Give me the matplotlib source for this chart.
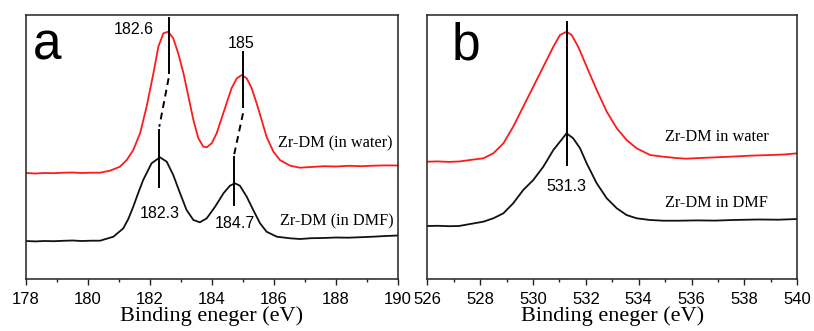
import matplotlib
matplotlib.use("Agg")
import matplotlib.pyplot as plt

# ---- Zr 3d region (panel a) ----
zr_energy_water = [178.0, 178.3, 178.6, 178.9, 179.2, 179.5, 179.8, 180.1, 180.39, 180.71,
                   181.03, 181.25, 181.46, 181.68, 181.89, 182.11, 182.27, 182.43, 182.59, 182.75,
                   182.91, 183.08, 183.24, 183.4, 183.56, 183.72, 183.83, 183.99, 184.15, 184.31,
                   184.47, 184.63, 184.8, 184.96, 185.12, 185.28, 185.44, 185.6, 185.76, 185.98,
                   186.19, 186.52, 186.84, 187.2, 187.6, 188.0, 188.4, 188.8, 189.2, 189.6,
                   190.0]
zr_int_water = [106, 105.5, 106, 105.8, 106.3, 106.5, 106, 106.3, 106.3, 108.3,
                112.3, 119, 129, 145.7, 172.3, 205.7, 232.3, 245.7, 247.3, 240.7,
                225.7, 205.7, 182.3, 159, 140.7, 132.3, 131.7, 135.7, 145.7, 160.7,
                175.7, 190.7, 200.7, 204, 200.7, 190.7, 175.7, 159, 142.3, 127.3,
                119, 113.3, 111.3, 112, 112.8, 112.5, 113.2, 112.8, 113.3, 113.6,
                113.5]

zr_energy_dmf = [178.0, 178.3, 178.6, 178.9, 179.2, 179.5, 179.8, 180.1, 180.39, 180.82,
                 181.14, 181.3, 181.46, 181.62, 181.78, 182.05, 182.32, 182.54, 182.75, 182.97,
                 183.18, 183.4, 183.61, 183.83, 184.1, 184.37, 184.58, 184.74, 184.9, 185.12,
                 185.33, 185.55, 185.76, 186.09, 186.52, 186.84, 187.2, 187.6, 188.0, 188.4,
                 188.8, 189.2, 189.6, 190.0]
zr_int_dmf = [38, 37.6, 38, 37.8, 38.2, 38.5, 38, 38.3, 38.3, 42.3,
              50.7, 60, 72.3, 86, 99, 115.7, 121.7, 117.3, 104, 85.7,
              69, 59, 56.7, 60.7, 72.3, 85.7, 93.3, 95.7, 93.3, 82.3,
              69, 55.7, 47.3, 42.3, 40.7, 40, 40.8, 41, 41.5, 41.3,
              41.8, 42.3, 43, 43.5]

# ---- O 1s region (panel b) ----
o_energy_water = [526.0, 526.4, 526.8, 527.2, 527.62, 528.12, 528.5, 528.88, 529.25, 529.63,
                  530.01, 530.39, 530.77, 531.02, 531.27, 531.46, 531.71, 532.03, 532.41, 532.79,
                  533.17, 533.54, 533.92, 534.43, 534.93, 535.4, 535.8, 536.3, 536.95, 537.6,
                  538.2, 539.0, 539.5, 540.0]
o_int_water = [117.3, 117.6, 117.1, 117.5, 119, 120.7, 125.7, 135.7, 152.3, 172.3,
               192.3, 212.3, 232.3, 244, 247.3, 244, 232.3, 212.3, 189, 167.3,
               150.7, 139, 130.7, 124, 122.3, 121, 120.3, 121, 121.7, 122.5,
               123.3, 124, 124.5, 125.7]

o_energy_dmf = [526.0, 526.4, 526.8, 527.2, 527.62, 528.12, 528.5, 528.88, 529.25, 529.63,
                530.01, 530.39, 530.77, 531.02, 531.27, 531.52, 531.78, 532.03, 532.41, 532.79,
                533.17, 533.54, 533.92, 534.43, 534.93, 535.5, 536.2, 536.9, 537.57, 538.5,
                539.3, 540.0]
o_int_dmf = [53, 53.2, 52.8, 53, 55, 57.3, 60.7, 65.7, 75.7, 89,
             99, 112.3, 129, 137.3, 145.7, 140.7, 130.7, 115.7, 95.7, 80.7,
             70.7, 64, 60.7, 59, 58.3, 58.3, 58.6, 58.4, 59, 59.5,
             59.3, 60]

# peak positions and the vertical extent of their marker lines
zr_peaks_water = [182.6, 185.0]
zr_peaks_dmf = [182.3, 184.7]
zr_water_marks = [(261, 205.7), (227.3, 172.3)]
zr_dash_marks = [(200.7, 152.3), (165.7, 122.3)]
zr_dmf_marks = [(149, 92.3), (122.3, 74)]
o_peak = 531.3
o_mark = (257.3, 114)

SANS = ["Liberation Sans", "DejaVu Sans"]
SERIF = ["Liberation Serif", "DejaVu Serif"]

fig = plt.figure(figsize=(8.14, 3.31), dpi=100)
ax_a = fig.add_axes([26 / 814, 52 / 331, 372 / 814, 264 / 331])
ax_b = fig.add_axes([427.3 / 814, 52 / 331, 370 / 814, 264 / 331])


def style_axes(ax, xlim, ticks):
    ax.set_xlim(*xlim)
    ax.set_ylim(0, 264)
    ax.set_yticks([])
    ax.set_xticks(ticks)
    ax.set_xticks([t + 1 for t in ticks[:-1]], minor=True)
    ax.tick_params(axis="x", which="major", direction="out", length=4, width=1,
                   pad=5, labelsize=12, color="#222222")
    ax.tick_params(axis="x", which="minor", direction="out", length=2.5, width=1,
                   color="#222222")
    for lab in ax.get_xticklabels():
        lab.set_family(SANS)
    for sp in ax.spines.values():
        sp.set_linewidth(1.1)
        sp.set_color("#222222")
    ax.set_xlabel("Binding eneger (eV)", family=SERIF, fontsize=16, labelpad=0)


# panel a
ax_a.plot(zr_energy_water, zr_int_water, color="#ff1a1a", lw=1.3)
ax_a.plot(zr_energy_dmf, zr_int_dmf, color="#111111", lw=1.3)
for pw, pd, wm, dm, bm in zip(zr_peaks_water, zr_peaks_dmf, zr_water_marks,
                              zr_dash_marks, zr_dmf_marks):
    ax_a.plot([pw, pw], wm, color="black", lw=1.4)
    ax_a.plot([pw, pd], dm, color="black", lw=1.4, ls=(0, (3.5, 2.5)))
    ax_a.plot([pd, pd], bm, color="black", lw=1.4)

ax_a.text(181.46, 249, "182.6", family=SANS, fontsize=11.5, ha="center", va="center")
ax_a.text(184.93, 236, "185", family=SANS, fontsize=11.5, ha="center", va="center")
ax_a.text(182.32, 66, "182.3", family=SANS, fontsize=11.5, ha="center", va="center")
ax_a.text(184.74, 56, "184.7", family=SANS, fontsize=11.5, ha="center", va="center")
ax_a.text(186.13, 136, "Zr-DM (in water)", family=SERIF, fontsize=11.7, ha="left", va="center")
ax_a.text(186.19, 57.3, "Zr-DM (in DMF)", family=SERIF, fontsize=11.7, ha="left", va="center")
ax_a.text(178.67, 219, "a", family=SANS, fontsize=37, ha="center", va="baseline")
style_axes(ax_a, (178, 190), [178, 180, 182, 184, 186, 188, 190])

# panel b
ax_b.plot(o_energy_water, o_int_water, color="#ff1a1a", lw=1.3)
ax_b.plot(o_energy_dmf, o_int_dmf, color="#111111", lw=1.3)
ax_b.plot([o_peak, o_peak], o_mark, color="black", lw=1.4)
ax_b.text(531.27, 92.3, "531.3", family=SANS, fontsize=11.5, ha="center", va="center")
ax_b.text(535.0, 142.3, "Zr-DM in water", family=SERIF, fontsize=11.7, ha="left", va="center")
ax_b.text(535.0, 75.7, "Zr-DM in DMF", family=SERIF, fontsize=11.7, ha="left", va="center")
ax_b.text(527.46, 219, "b", family=SANS, fontsize=37, ha="center", va="baseline")
style_axes(ax_b, (526, 540), [526, 528, 530, 532, 534, 536, 538, 540])

fig.savefig("out.png", dpi=100)
